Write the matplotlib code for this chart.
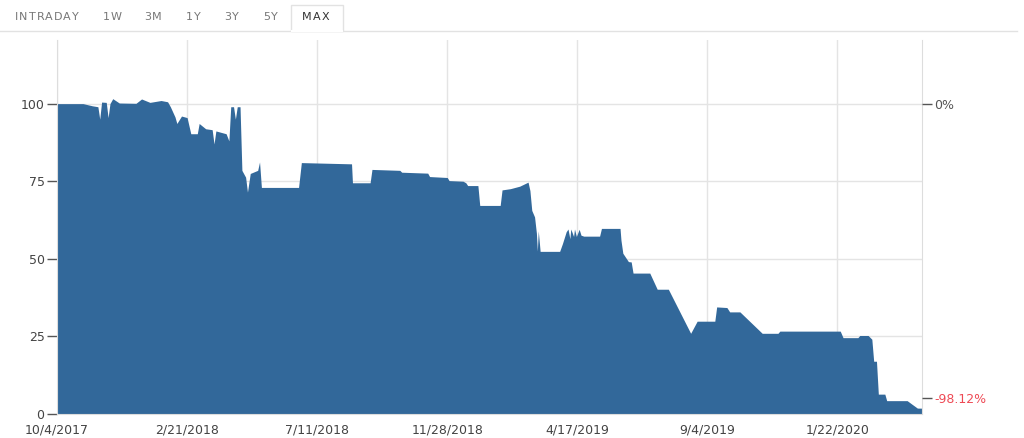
import matplotlib
matplotlib.use('Agg')
from matplotlib import pyplot as plt
import matplotlib.dates as mdates
import pandas as pd

# price index
dates = ['2017-10-04', '2017-11-01', '2017-11-11', '2017-11-17', '2017-11-19', '2017-11-21',
         '2017-11-26', '2017-11-28', '2017-11-30', '2017-12-03', '2017-12-10', '2017-12-28',
         '2018-01-03', '2018-01-12', '2018-01-24', '2018-01-31', '2018-02-03', '2018-02-08',
         '2018-02-10', '2018-02-15', '2018-02-21', '2018-02-25', '2018-03-04', '2018-03-06',
         '2018-03-13', '2018-03-20', '2018-03-22', '2018-03-24', '2018-04-04', '2018-04-07',
         '2018-04-09', '2018-04-12', '2018-04-14', '2018-04-16', '2018-04-19', '2018-04-21',
         '2018-04-25', '2018-04-27', '2018-04-30', '2018-05-08', '2018-05-10', '2018-05-12',
         '2018-06-21', '2018-06-24', '2018-08-17', '2018-08-18', '2018-09-06', '2018-09-08',
         '2018-10-08', '2018-10-10', '2018-11-07', '2018-11-09', '2018-11-28', '2018-11-30',
         '2018-12-15', '2018-12-18', '2018-12-20', '2018-12-31', '2019-01-02', '2019-01-24',
         '2019-01-26', '2019-02-04', '2019-02-14', '2019-02-23', '2019-02-25', '2019-02-27',
         '2019-03-02', '2019-03-04', '2019-03-05', '2019-03-06', '2019-03-08', '2019-03-29',
         '2019-04-01', '2019-04-05', '2019-04-07', '2019-04-09', '2019-04-10', '2019-04-13',
         '2019-04-14', '2019-04-16', '2019-04-19', '2019-04-21', '2019-04-24', '2019-05-11',
         '2019-05-13', '2019-06-02', '2019-06-03', '2019-06-05', '2019-06-11', '2019-06-14',
         '2019-06-16', '2019-07-04', '2019-07-12', '2019-07-24', '2019-08-17', '2019-08-24',
         '2019-09-12', '2019-09-14', '2019-09-25', '2019-09-28', '2019-10-09', '2019-11-02',
         '2019-11-19', '2019-11-21', '2020-01-25', '2020-01-28', '2020-02-13', '2020-02-15',
         '2020-02-24', '2020-02-28', '2020-03-01', '2020-03-04', '2020-03-06', '2020-03-13',
         '2020-03-15', '2020-04-06', '2020-04-11', '2020-04-17', '2020-04-22']
values = [100.0, 100.0, 99.3, 99.0, 95.0, 100.5,
          100.4, 95.5, 100.0, 101.6, 100.2, 100.1,
          101.5, 100.4, 101.0, 100.6, 99.0, 95.7,
          93.6, 96.0, 95.5, 90.3, 90.3, 93.6,
          91.9, 91.6, 87.0, 91.2, 90.3, 88.0,
          99.0, 99.0, 95.0, 99.0, 99.0, 78.5,
          76.3, 71.5, 77.5, 78.5, 81.2, 73.0,
          73.0, 81.0, 80.6, 74.5, 74.5, 78.8,
          78.5, 77.9, 77.6, 76.5, 76.2, 75.2,
          75.0, 74.5, 73.6, 73.6, 67.2, 67.2,
          72.2, 72.6, 73.4, 74.7, 72.0, 65.6,
          63.5, 58.2, 52.5, 59.0, 52.4, 52.4,
          54.9, 58.7, 59.6, 56.5, 59.6, 57.2,
          59.6, 57.2, 59.5, 57.6, 57.3, 57.3,
          59.8, 59.8, 56.0, 51.8, 49.1, 49.0,
          45.4, 45.4, 40.2, 40.2, 26.0, 29.9,
          29.9, 34.5, 34.3, 32.9, 32.9, 26.0,
          26.0, 26.7, 26.7, 24.6, 24.6, 25.3,
          25.3, 24.1, 17.0, 17.0, 6.4, 6.4,
          4.3, 4.3, 3.2, 1.9, 1.88]

x_ticks = ['2017-10-04', '2018-02-21', '2018-07-11', '2018-11-28',
           '2019-04-17', '2019-09-04', '2020-01-22']
x_labels = ['10/4/2017', '2/21/2018', '7/11/2018', '11/28/2018',
            '4/17/2019', '9/4/2019', '1/22/2020']
y_ticks = [0, 25, 50, 75, 100]
right_ticks = [100, 5.2]
right_labels = ['0%', '-98.12%']
tabs = ['INTRADAY', '1W', '3M', '1Y', '3Y', '5Y', 'MAX']
tab_x = [15, 103, 144, 186, 224, 263, 302]

dt = pd.to_datetime(dates)

fig = plt.figure(figsize=(10.24, 4.38), dpi=100)
ax = fig.add_axes([57 / 1024, 1 - 414 / 438, 865 / 1024, 374 / 438])

ax.fill_between(dt, values, 0, color='#32689a', linewidth=0)
ax.set_xlim(pd.Timestamp('2017-10-04'), pd.Timestamp('2020-04-22'))
ax.set_ylim(0, 120.5)

ax.set_xticks(pd.to_datetime(x_ticks))
ax.set_xticklabels(x_labels)
ax.set_yticks(y_ticks)
ax.tick_params(axis='x', length=0, pad=7, labelsize=9, labelcolor='#444444')
ax.tick_params(axis='y', length=7, width=1, color='#555555', pad=2,
               labelsize=9, labelcolor='#444444')
ax.grid(True, color='#e4e4e4', linewidth=1)
ax.set_axisbelow(True)
for side in ['left', 'right', 'bottom']:
    ax.spines[side].set_color('#dddddd')
ax.spines['top'].set_visible(False)

ax2 = ax.twinx()
ax2.set_ylim(ax.get_ylim())
ax2.set_yticks(right_ticks)
ax2.set_yticklabels(right_labels)
ax2.tick_params(axis='y', length=7, width=1, color='#555555', pad=2,
                labelsize=9, labelcolor='#555555')
ax2.get_yticklabels()[1].set_color('#ee4a55')
for side in ax2.spines:
    ax2.spines[side].set_visible(False)

# tab bar on top
fig.add_artist(plt.Line2D([0, 1017 / 1024], [1 - 31 / 438] * 2,
                          color='#e2e2e2', linewidth=1))
fig.add_artist(plt.Rectangle((291 / 1024, 1 - 31 / 438), 52 / 1024, 26 / 438,
                             facecolor='white', edgecolor='#e2e2e2', linewidth=1))
fig.add_artist(plt.Line2D([292 / 1024, 342 / 1024], [1 - 31 / 438] * 2,
                          color='white', linewidth=1.5))

renderer = fig.canvas.get_renderer()
for name, px in zip(tabs, tab_x):
    color = '#333333' if name == 'MAX' else '#777777'
    pos = px
    for ch in name:
        t = fig.text(pos / 1024, 1 - 17 / 438, ch, fontsize=8, color=color,
                     va='center', ha='left')
        pos += t.get_window_extent(renderer).width + 1.0

fig.savefig('out.png', dpi=100)
